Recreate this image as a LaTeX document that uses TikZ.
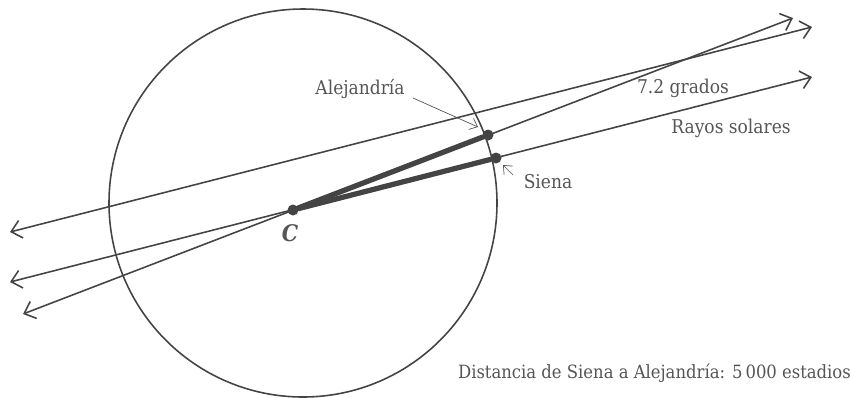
\documentclass[tikz,border=0pt]{standalone}
\usepackage{fontspec}
\setmainfont{DejaVu Serif Condensed}
\usepackage{tikz}
\usetikzlibrary{arrows.meta,calc}
\definecolor{lineagris}{RGB}{68,68,68}
\definecolor{textogris}{RGB}{85,85,85}

\begin{document}
\begin{tikzpicture}[x=0.02cm, y=-0.02cm,
    font=\fontsize{10.8}{12}\selectfont,
    every node/.style={align=center, text=textogris},
    rayo/.style={lineagris, line width=0.9pt,
                 {Straight Barb[length=2mm,width=3.6mm]}-{Straight Barb[length=2mm,width=3.6mm]}},
    radio/.style={lineagris, line width=3pt, line cap=round},
    punto/.style={circle, fill=lineagris, inner sep=0pt, minimum size=0.22cm},
    nota/.style={textogris, line width=0.4pt, -{Straight Barb[length=1.4mm,width=2.4mm]}}]
  \useasboundingbox (0,0) rectangle (855,397);
  % tierra
  \coordinate (O) at (303,203);
  \draw[lineagris, line width=0.9pt] (O) circle[radius=194];
  % puntos
  \node[punto] (C) at (293,210) {};
  \node[punto] (A) at (488,135) {};
  \node[punto] (S) at (496,158) {};
  % extremos de los rayos
  \coordinate (r1i) at (23,314);  \coordinate (r1d) at (793,18);
  \coordinate (r2i) at (10,282);  \coordinate (r2d) at (812,77);
  \coordinate (r3i) at (10,232);  \coordinate (r3d) at (812,27);
  \foreach \i in {1,2,3}
    \draw[rayo] (r\i i) -- (r\i d);
  \draw[radio] (C) -- (A);
  \draw[radio] (C) -- (S);
  % textos
  \node (lC) at (290,233) {\fontsize{13}{14}\selectfont\textbf{\textit{C}}};
  \node (lA) at (360,89) {Alejandría};
  \node (lS) at (548,182) {Siena};
  \node (lg) at (683,88) {7.2 grados};
  \node (lr) at (731,128) {Rayos solares};
  \node[anchor=east, font=\fontsize{10.4}{12}\selectfont] (ld) at (857,373)
    {Distancia de Siena a Alejandría: 5\,000 estadios};
  \coordinate (fA) at (478,127);
  \coordinate (fS) at (503,165);
  \draw[nota] (413,98) -- (fA);
  \draw[nota] (513,175) -- (fS);
\end{tikzpicture}
\end{document}
